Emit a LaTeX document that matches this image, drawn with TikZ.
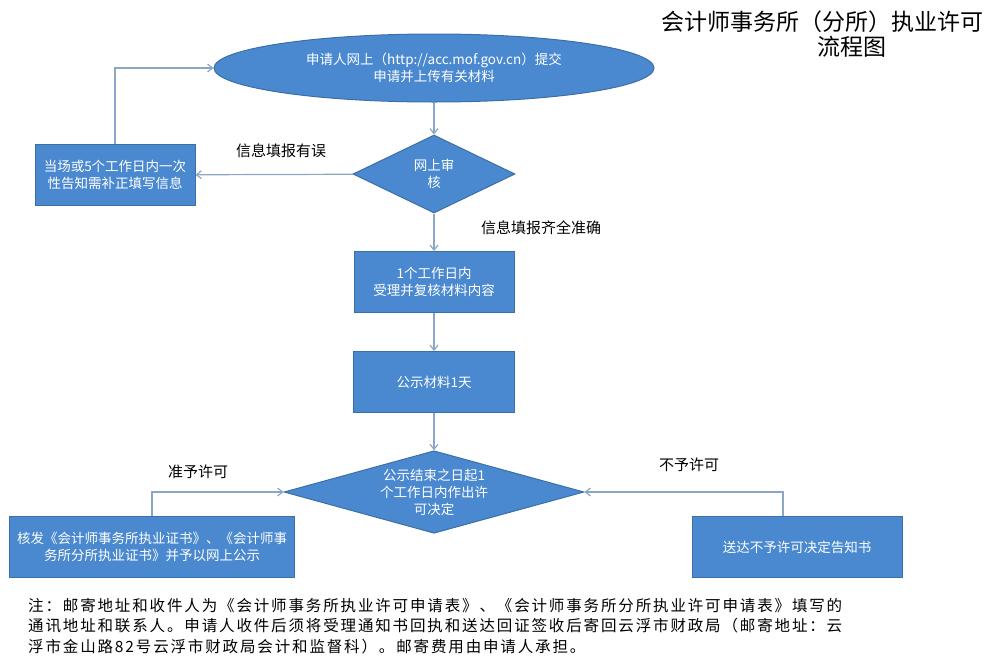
\documentclass[tikz,border=0pt]{standalone}
\usepackage{fontspec}
\setmainfont{Noto Sans CJK SC}
\newfontfamily\notefont[LetterSpace=12]{Noto Sans CJK SC}
\usepackage{tikz}
\usetikzlibrary{positioning}
\usetikzlibrary{calc}
\usetikzlibrary{arrows.meta,shapes.geometric}

\definecolor{boxblue}{HTML}{4A89CF}
\definecolor{boxedge}{HTML}{3B6FA8}
\definecolor{linkgray}{HTML}{8CA6C6}

\begin{document}
\begin{tikzpicture}[x=1pt,y=-1pt,
  blk/.style={fill=boxblue,draw=boxedge,line width=1pt,text=white,align=center,
    inner sep=0pt,font=\fontsize{13.5}{17}\selectfont},
  box/.style={blk,rectangle,minimum width=#1,minimum height=61pt},
  chk/.style={blk,diamond,aspect=3},
  lnk/.style={draw=linkgray,line width=1.2pt,-{Straight Barb[length=5pt,width=8pt]}},
  lbl/.style={font=\fontsize{15}{18}\selectfont,inner sep=0pt}]
\useasboundingbox (0,0) rectangle (990,662);

% title
\node[inner sep=0pt,font=\fontsize{23}{26}\selectfont] (title1) at (822,22) {会计师事务所（分所）执业许可};
\node[inner sep=0pt,font=\fontsize{23}{26}\selectfont] (title2) at (852,47) {流程图};

% main column
\node[blk,ellipse,minimum width=440pt,minimum height=68pt] (apply) at (434,68)
  {申请人网上（http://acc.mof.gov.cn）提交\\申请并上传有关材料};
\node[chk,minimum width=162pt,minimum height=78pt] (review) at (434,174) {网上审\\核};
\node[box=160pt] (accept) at (434,282) {1个工作日内\\受理并复核材料内容};
\node[box=161pt] (notice) at (434,382) {公示材料1天};
\node[chk,minimum width=300pt,minimum height=82pt] (decide) at (434,492)
  {公示结束之日起1\\个工作日内作出许\\可决定};

% side boxes
\node[box=160pt] (fix) at (115,175) {当场或5个工作日内一次\\性告知需补正填写信息};
\node[box=285pt] (grant) at (152,547) {核发《会计师事务所执业证书》、《会计师事\\务所分所执业证书》并予以网上公示};
\node[box=210pt] (refuse) at (797,547) {送达不予许可决定告知书};

% connectors
\draw[lnk] (apply) -- (review);
\draw[lnk] (review) -- (fix);
\draw[lnk] (fix.north) |- (apply.west);
\draw[lnk] (review) -- (accept);
\draw[lnk] (accept) -- (notice);
\draw[lnk] (notice) -- (decide);
\draw[lnk] (grant.north) |- (decide.west);
\draw[lnk] ([xshift=-14pt]refuse.north) |- (decide.east);

% labels
\node[lbl] (wrong) at (281,151) {信息填报有误};
\node[lbl] (right) at (541,228) {信息填报齐全准确};
\node[lbl] (yes) at (198,472) {准予许可};
\node[lbl] (no) at (689,465) {不予许可};

% note
\node[anchor=north west,align=left,inner sep=0pt,
  font=\fontsize{15.5}{20.5}\selectfont\notefont] (note) at (28,598)
  {注：邮寄地址和收件人为《会计师事务所执业许可申请表》、《会计师事务所分所执业许可申请表》填写的\\
   通讯地址和联系人。申请人收件后须将受理通知书回执和送达回证签收后寄回云浮市财政局（邮寄地址：云\\
   浮市金山路82号云浮市财政局会计和监督科）。邮寄费用由申请人承担。};

\end{tikzpicture}
\end{document}
